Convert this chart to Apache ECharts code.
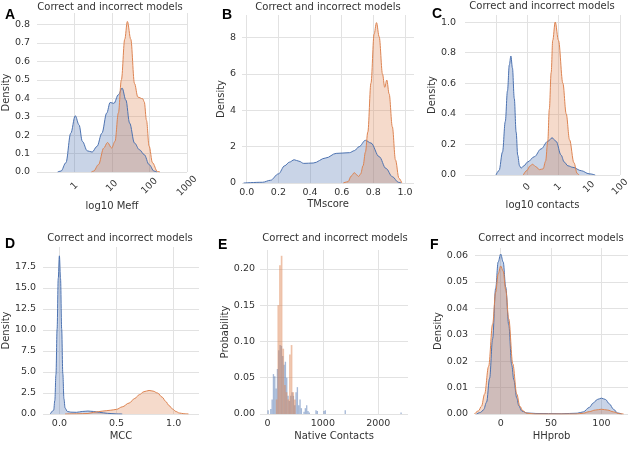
<!DOCTYPE html>
<html>
<head>
<meta charset="utf-8">
<script src="https://cdn.jsdelivr.net/npm/echarts@6/dist/echarts.min.js"></script>
<style>
  html, body { margin: 0; padding: 0; background: #fff; }
  #chart { width: 633px; height: 466px; }
</style>
</head>
<body>
<div id="chart"></div>
<script>
// ---- data ----
// A: log10 Meff (x in log10 units)
const meffIncorrect = [[-0.45,0],[-0.36,0.005],[-0.23,0.05],[-0.1,0.21],[0.02,0.305],[0.12,0.256],[0.21,0.166],[0.34,0.115],[0.47,0.108],[0.6,0.139],[0.73,0.21],[0.86,0.32],[0.95,0.377],[1.05,0.372],[1.17,0.419],[1.27,0.455],[1.37,0.39],[1.47,0.265],[1.6,0.157],[1.73,0.121],[1.86,0.094],[1.99,0.04],[2.12,0.005],[2.2,0]];
const meffCorrect = [[0.45,0],[0.51,0.005],[0.64,0.04],[0.78,0.13],[0.88,0.16],[0.99,0.13],[1.08,0.166],[1.17,0.32],[1.25,0.5],[1.34,0.72],[1.41,0.816],[1.5,0.72],[1.6,0.48],[1.69,0.406],[1.82,0.397],[1.86,0.38],[1.92,0.28],[1.99,0.14],[2.08,0.05],[2.21,0.003],[2.28,0]];
const meffTicks = [0, 1, 2, 3];
const meffTickLabels = ['1', '10', '100', '1000'];

// B: TMscore
const tmIncorrect = [[-0.02,0],[0.1,0.04],[0.15,0.15],[0.2,0.5],[0.24,0.95],[0.27,1.15],[0.3,1.28],[0.33,1.2],[0.36,1.08],[0.42,1.1],[0.5,1.38],[0.565,1.63],[0.65,1.67],[0.68,1.78],[0.71,2.0],[0.75,2.35],[0.785,2.2],[0.837,1.45],[0.88,0.8],[0.92,0.35],[0.958,0.04],[0.975,0]];
const tmCorrect = [[0.61,0],[0.64,0.07],[0.66,0.38],[0.68,0.57],[0.695,0.45],[0.707,0.36],[0.72,0.5],[0.735,0.95],[0.75,1.7],[0.765,2.8],[0.785,5.5],[0.805,8.2],[0.82,8.83],[0.837,8.05],[0.858,6.0],[0.872,5.27],[0.885,5.67],[0.9,4.9],[0.92,3.1],[0.94,1.27],[0.962,0.26],[0.98,0]];

// C: log10 contacts
const contactsIncorrect = [[-2.0,0],[-1.9,0.03],[-1.79,0.15],[-1.7,0.35],[-1.63,0.55],[-1.57,0.72],[-1.52,0.778],[-1.47,0.7],[-1.41,0.5],[-1.35,0.28],[-1.3,0.13],[-1.24,0.06],[-1.19,0.045],[-1.1,0.06],[-0.98,0.085],[-0.76,0.12],[-0.55,0.17],[-0.33,0.22],[-0.19,0.243],[-0.06,0.22],[0.1,0.13],[0.2,0.085],[0.32,0.06],[0.48,0.05],[0.75,0.028],[1.0,0.008],[1.2,0]];
const contactsCorrect = [[-1.12,0],[-1.0,0.03],[-0.9,0.06],[-0.82,0.07],[-0.72,0.055],[-0.6,0.035],[-0.48,0.04],[-0.4,0.09],[-0.33,0.22],[-0.28,0.43],[-0.22,0.67],[-0.17,0.88],[-0.09,1.0],[0.016,0.88],[0.157,0.6],[0.265,0.4],[0.373,0.23],[0.514,0.08],[0.62,0.01],[0.68,0]];
const contactsTicks = [-2, -1, 0, 1, 2];
const contactsLabelTicks = [-1, 0, 1, 2];
const contactsTickLabels = ['0', '1', '10', '100'];

// D: MCC
const mccIncorrect = [[-0.08,0],[-0.05,0.45],[-0.04,1.6],[-0.03,4.7],[-0.02,10.1],[-0.01,16.1],[0.0,18.8],[0.01,16.1],[0.02,10.1],[0.03,4.8],[0.04,1.8],[0.05,0.7],[0.07,0.3],[0.1,0.22],[0.15,0.2],[0.2,0.3],[0.25,0.35],[0.3,0.3],[0.35,0.2],[0.42,0.08],[0.5,0.01],[0.55,0]];
const mccCorrect = [[0.05,0],[0.15,0.02],[0.25,0.06],[0.3,0.2],[0.38,0.35],[0.45,0.45],[0.5,0.55],[0.55,0.85],[0.61,1.3],[0.66,1.85],[0.7,2.3],[0.74,2.65],[0.785,2.8],[0.82,2.72],[0.858,2.5],[0.9,2.0],[0.93,1.5],[0.96,1.0],[0.99,0.6],[1.02,0.3],[1.05,0.12],[1.09,0.03],[1.13,0]];

// E: Native Contacts histogram, [bin start, probability]
const nativeBinIncorrect = 24;
const nativeIncorrect = [[0,0.005],[48,0.007],[72,0.02],[96,0.055],[120,0.052],[144,0.035],[168,0.062],[192,0.088],[216,0.095],[240,0.094],[264,0.08],[288,0.068],[312,0.072],[336,0.05],[360,0.025],[384,0.018],[408,0.025],[432,0.03],[456,0.025],[480,0.012],[504,0.03],[528,0.037],[552,0.012],[576,0.02],[600,0.008],[648,0.003],[672,0.008],[696,0.012],[720,0.004],[744,0.002],[864,0.005],[888,0.004],[1008,0.004],[1032,0.005],[1392,0.005],[2400,0.002]];
const nativeBinCorrect = 30;
const nativeCorrect = [[150,0.02],[180,0.15],[210,0.205],[240,0.218],[270,0.09],[300,0.04],[330,0.03],[360,0.02],[390,0.082],[420,0.095],[450,0.03],[480,0.02]];

// F: HHprob
const hhIncorrect = [[-24,0],[-20,0.0006],[-17,0.0016],[-14,0.0045],[-11,0.0135],[-8,0.0285],[-5,0.0475],[-2.5,0.0575],[0,0.0605],[2.5,0.0575],[5,0.048],[8,0.0337],[11,0.0185],[13,0.013],[16,0.006],[18,0.0031],[21,0.0011],[26,0.0004],[35,0.0002],[60,0.0001],[76,0.0003],[82,0.0008],[88,0.0025],[92,0.0042],[96,0.0055],[100,0.006],[104,0.0055],[108,0.0038],[112,0.0018],[116,0.0004],[120,0]];
const hhCorrect = [[-26,0],[-22,0.0012],[-19,0.003],[-16,0.0075],[-12,0.018],[-8,0.034],[-5,0.046],[-2.5,0.053],[0,0.056],[2.5,0.054],[5,0.047],[8,0.036],[12,0.019],[16,0.0075],[19,0.003],[22,0.0012],[26,0.0003],[34,0],[75,0],[82,0.0003],[88,0.0009],[94,0.0015],[100,0.0018],[106,0.0015],[112,0.0008],[118,0.0001],[122,0]];

const panelTitle = 'Correct and incorrect models';
const panelLetters = ['A', 'B', 'C', 'D', 'E', 'F'];

// ---- styling ----
const FONT = 'DejaVu Sans';
const TXT = '#333';
const GRIDC = '#e2e2e2';
const BLUE = '#4c72b0';
const ORANGE = '#dd8452';

const grids = [
  {left: 34, top: 13, width: 153, height: 159},
  {left: 242, top: 15, width: 172, height: 168},
  {left: 465, top: 15, width: 155, height: 160},
  {left: 40, top: 247, width: 159, height: 167},
  {left: 260, top: 250, width: 148, height: 164},
  {left: 475, top: 248, width: 153, height: 166}
];

function steps(from, to, step) {
  const out = [];
  for (let v = from; v <= to + step / 1000; v += step) out.push(+v.toFixed(6));
  return out;
}

function axis(gi, min, max, ticks, fmt, name, nameGap, labelTicks, labelExtra) {
  return {
    type: 'value', gridIndex: gi, min: min, max: max,
    axisLine: {show: false},
    axisTick: {show: false, customValues: ticks},
    splitLine: {show: true, lineStyle: {color: GRIDC, width: 1}},
    axisLabel: Object.assign({
      customValues: labelTicks || ticks, formatter: fmt,
      color: TXT, fontFamily: FONT, fontSize: 9.5, margin: 5
    }, labelExtra || {}),
    name: name, nameLocation: 'middle', nameGap: nameGap,
    nameTextStyle: {color: TXT, fontFamily: FONT, fontSize: 10}
  };
}

const f1 = v => v.toFixed(1);
const f2 = v => v.toFixed(2);
const f0 = v => String(Math.round(v));
const rotated = {rotate: 45, align: 'center', verticalAlign: 'middle', margin: 14};

const xAxes = [
  axis(0, -1, 3, meffTicks, v => meffTickLabels[meffTicks.indexOf(v)] || '', 'log10 Meff', 24, null, rotated),
  axis(1, -0.03, 1.057, steps(0, 1, 0.2), f1, 'TMscore', 16),
  axis(2, -3, 2, contactsTicks, v => contactsTickLabels[contactsLabelTicks.indexOf(v)] || '', 'log10 contacts', 24, contactsLabelTicks, Object.assign({}, rotated, {margin: 12})),
  axis(3, -0.143, 1.222, [0, 0.5, 1.0], f1, 'MCC', 17),
  axis(4, -135, 2537, [0, 1000, 2000], f0, 'Native Contacts', 17),
  axis(5, -25.5, 126.4, [0, 50, 100], f0, 'HHprob', 17)
];
const yAxes = [
  axis(0, 0, 0.862, steps(0, 0.8, 0.1), f1, 'Density', 18, null, {margin: 7}),
  axis(1, 0, 9.25, [0, 2, 4, 6, 8], f0, 'Density', 8, null, {margin: 6}),
  axis(2, 0, 1.046, steps(0, 1, 0.2), f1, 'Density', 21, null, {margin: 9}),
  axis(3, 0, 19.85, steps(0, 17.5, 2.5), f1, 'Density', 24, null, {margin: 7}),
  axis(4, 0, 0.226, steps(0, 0.2, 0.05), f2, 'Probability', 24, null, {margin: 5}),
  axis(5, 0, 0.0628, steps(0, 0.06, 0.01), f2, 'Density', 30, null, {margin: 7})
];

function kde(i, data, color) {
  return {
    type: 'line', xAxisIndex: i, yAxisIndex: i, data: data,
    smooth: 0.35, smoothMonotone: 'x', symbol: 'none', silent: true,
    lineStyle: {color: color, width: 1},
    areaStyle: {color: color, opacity: 0.3}
  };
}

function hist(i, bins, width, color) {
  return {
    type: 'custom', xAxisIndex: i, yAxisIndex: i, silent: true,
    data: bins.map(d => [d[0], d[0] + width, d[1]]),
    encode: {x: [0, 1], y: 2},
    renderItem: function (params, api) {
      const a = api.coord([api.value(0), api.value(2)]);
      const b = api.coord([api.value(1), 0]);
      return {
        type: 'rect',
        shape: {x: a[0], y: a[1], width: b[0] - a[0], height: b[1] - a[1]},
        style: {fill: color, opacity: 0.5}
      };
    }
  };
}

// title centres and tops, letter positions
const titlePos = [[110, 2], [328, 2], [542, 1], [120, 233], [335, 233], [551, 233]];
const letterPos = [[5, 8], [222, 8], [432, 7], [5, 237], [218, 238], [430, 238]];

const titles = [];
titlePos.forEach(p => titles.push({
  text: panelTitle, left: p[0], top: p[1], textAlign: 'center', padding: 0,
  textStyle: {fontFamily: FONT, fontSize: 10, fontWeight: 'normal', color: TXT}
}));
letterPos.forEach((p, i) => titles.push({
  text: panelLetters[i], left: p[0], top: p[1], padding: 0,
  textStyle: {fontFamily: 'Liberation Sans', fontSize: 14, fontWeight: 'bold', color: '#000'}
}));

const chart = echarts.init(document.getElementById('chart'), null, {renderer: 'canvas'});
chart.setOption({
  animation: false,
  backgroundColor: '#fff',
  title: titles,
  grid: grids,
  xAxis: xAxes,
  yAxis: yAxes,
  series: [
    kde(0, meffIncorrect, BLUE), kde(0, meffCorrect, ORANGE),
    kde(1, tmIncorrect, BLUE), kde(1, tmCorrect, ORANGE),
    kde(2, contactsIncorrect, BLUE), kde(2, contactsCorrect, ORANGE),
    kde(3, mccIncorrect, BLUE), kde(3, mccCorrect, ORANGE),
    hist(4, nativeIncorrect, nativeBinIncorrect, BLUE), hist(4, nativeCorrect, nativeBinCorrect, ORANGE),
    kde(5, hhIncorrect, BLUE), kde(5, hhCorrect, ORANGE)
  ]
});
</script>
</body>
</html>
